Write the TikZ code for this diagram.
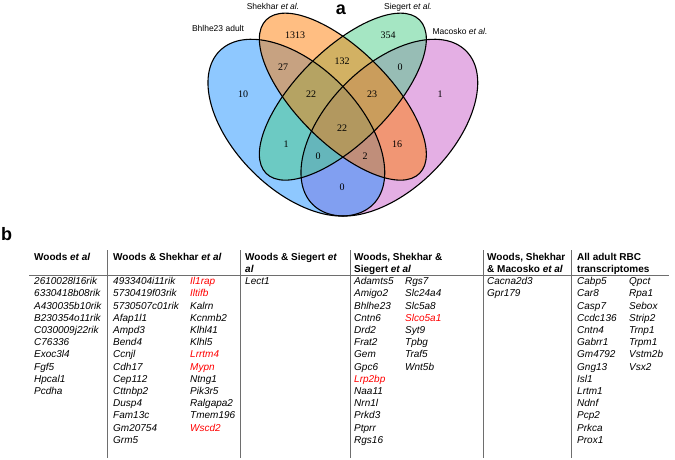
\documentclass[tikz,border=0pt]{standalone}
\usepackage{fontspec}
\setmainfont{Liberation Sans}
\newfontfamily\numfont{Liberation Serif}
\definecolor{setblue}{RGB}{30,145,255}
\definecolor{setorange}{RGB}{255,125,5}
\definecolor{setgreen}{RGB}{75,205,135}
\definecolor{setpink}{RGB}{201,95,201}
\definecolor{rulegray}{RGB}{110,110,110}
\newcommand{\redgene}[1]{\textcolor{red}{#1}}

\begin{document}
\begin{tikzpicture}[x=1pt,y=1pt,
  count/.style={font=\numfont\fontsize{10}{12}\selectfont, inner sep=0pt},
  setlabel/.style={font=\fontsize{8.5}{10}\selectfont, inner sep=0pt},
  panel/.style={font=\bfseries\fontsize{18}{20}\selectfont, inner sep=0pt},
  head/.style={font=\bfseries\fontsize{10}{12}\selectfont, align=left, anchor=north west, inner sep=0pt},
  gene/.style={font=\itshape\fontsize{10}{12}\selectfont, anchor=base west, inner sep=0pt},
  tablerule/.style={rulegray, line width=0.7pt}]

\useasboundingbox (0,0) rectangle (675,-459);

% ============================================
% PANEL A – FOUR SET VENN DIAGRAM
% ============================================
\node[panel] (pa) at (341,-10) {a};

\begin{scope}[shift={(187.85,-273.35)}, scale=310]
        % Fills first (pink, blue, green, orange)
        \foreach \cx/\cy/\rb/\ang/\col in {0.65/0.47/0.2/45/setpink,
                                           0.35/0.47/0.2/-45/setblue,
                                           0.5/0.57/0.15/45/setgreen,
                                           0.5/0.57/0.15/-45/setorange}
          \fill[\col, fill opacity=0.5] (\cx,\cy) circle [x radius=0.35, y radius=\rb, rotate=\ang];
        % Outlines on top
        \foreach \cx/\cy/\rb/\ang in {0.35/0.47/0.2/-45, 0.5/0.57/0.15/-45,
                                      0.5/0.57/0.15/45, 0.65/0.47/0.2/45}
          \draw[line width=1.1pt] (\cx,\cy) circle [x radius=0.35, y radius=\rb, rotate=\ang];
\end{scope}

% Set labels
\node[setlabel] (lB) at (218,-28) {Bhlhe23 adult};
\node[setlabel] (lS) at (273,-6) {Shekhar \textit{et al.}};
\node[setlabel] (lG) at (408,-7) {Siegert \textit{et al.}};
\node[setlabel] (lM) at (460,-31) {Macosko \textit{et al.}};

% Region counts
\node[count] (nS)    at (295,-35)  {1313};
\node[count] (nG)    at (388,-35)  {354};
\node[count] (nBS)   at (283,-67)  {27};
\node[count] (nSG)   at (342,-61)  {132};
\node[count] (nGM)   at (400,-67)  {0};
\node[count] (nB)    at (243,-94)  {10};
\node[count] (nBSG)  at (311,-94)  {22};
\node[count] (nSGM)  at (372,-94)  {23};
\node[count] (nM)    at (440,-94)  {1};
\node[count] (nAll)  at (342,-128) {22};
\node[count] (nBG)   at (286,-144) {1};
\node[count] (nSM)   at (397,-144) {16};
\node[count] (nBGM)  at (318,-156) {0};
\node[count] (nBSM)  at (365,-156) {2};
\node[count] (nBM)   at (342,-187) {0};

% ============================================
% PANEL B – GENE TABLE
% ============================================
\node[panel] (pb) at (6.5,-234) {b};

        % Rules
        \draw[tablerule] (29,-275) -- (669,-275);
        \foreach \x in {107,240,350,483,571}
          \draw[tablerule] (\x,-250) -- (\x,-458);

        % Headers
        \node[head] (h1) at (34,-253.3)  {Woods \textit{et al}};
        \node[head] (h2) at (113,-253.3) {Woods \& Shekhar \textit{et al}};
        \node[head] (h3) at (245,-253.3) {Woods \& Siegert \textit{et}\\\textit{al}};
        \node[head] (h4) at (354,-253.3) {Woods, Shekhar \&\\Siegert \textit{et al}};
        \node[head] (h5) at (487,-253.3) {Woods, Shekhar\\\& Macosko \textit{et al}};
        \node[head] (h6) at (577,-253.3) {All adult RBC\\transcriptomes};

        % Gene lists
        \foreach \g [count=\i from 0] in {2610028l16rik,6330418b08rik,A430035b10rik,
            B230354o11rik,C030009j22rik,C76336,Exoc3l4,Fgf5,Hpcal1,Pcdha}
          \node[gene] (ga-\i) at (34,-284.6-12.2*\i) {\g};
        \foreach \g [count=\i from 0] in {4933404i11rik,5730419f03rik,5730507c01rik,
            Afap1l1,Ampd3,Bend4,Ccnjl,Cdh17,Cep112,Cttnbp2,Dusp4,Fam13c,Gm20754,Grm5}
          \node[gene] (gb-\i) at (113,-284.6-12.2*\i) {\g};
        \foreach \g [count=\i from 0] in {\redgene{Il1rap},\redgene{Iltifb},Kalrn,Kcnmb2,
            Klhl41,Klhl5,\redgene{Lrrtm4},\redgene{Mypn},Ntng1,Pik3r5,Ralgapa2,Tmem196,
            \redgene{Wscd2}}
          \node[gene] (gc-\i) at (190,-284.6-12.2*\i) {\g};
        \node[gene] (gd-0) at (245,-284.6) {Lect1};
        \foreach \g [count=\i from 0] in {Adamts5,Amigo2,Bhlhe23,Cntn6,Drd2,Frat2,Gem,
            Gpc6,\redgene{Lrp2bp},Naa11,Nrn1l,Prkd3,Ptprr,Rgs16}
          \node[gene] (ge-\i) at (354,-284.6-12.2*\i) {\g};
        \foreach \g [count=\i from 0] in {Rgs7,Slc24a4,Slc5a8,\redgene{Slco5a1},Syt9,
            Tpbg,Traf5,Wnt5b}
          \node[gene] (gf-\i) at (405,-284.6-12.2*\i) {\g};
        \foreach \g [count=\i from 0] in {Cacna2d3,Gpr179}
          \node[gene] (gg-\i) at (487,-284.6-12.2*\i) {\g};
        \foreach \g [count=\i from 0] in {Cabp5,Car8,Casp7,Ccdc136,Cntn4,Gabrr1,Gm4792,
            Gng13,Isl1,Lrtm1,Ndnf,Pcp2,Prkca,Prox1}
          \node[gene] (gh-\i) at (577,-284.6-12.2*\i) {\g};
        \foreach \g [count=\i from 0] in {Qpct,Rpa1,Sebox,Strip2,Trnp1,Trpm1,Vstm2b,Vsx2}
          \node[gene] (gi-\i) at (629,-284.6-12.2*\i) {\g};
\end{tikzpicture}
\end{document}
